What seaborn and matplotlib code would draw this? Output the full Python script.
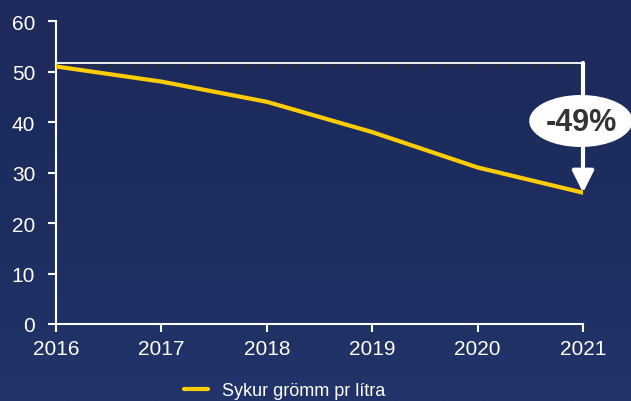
import matplotlib
matplotlib.use("Agg")
import matplotlib.pyplot as plt
import seaborn as sns
import pandas as pd
import numpy as np
from matplotlib.patches import Ellipse
from matplotlib.colors import LinearSegmentedColormap

years = [2016, 2017, 2018, 2019, 2020, 2021]
sugar = [51, 48, 44, 38, 31, 26]
series_name = "Sykur grömm pr lítra"
change_label = "-49%"
y_ticks = [0, 10, 20, 30, 40, 50, 60]

df = pd.DataFrame({"Ár": years, "Sykur": sugar, "Röð": series_name})

sns.set_theme(style="ticks")
plt.rcParams["font.family"] = ["Liberation Sans", "DejaVu Sans"]

bg = "#1c2b5c"
fig = plt.figure(figsize=(6.31, 4.02), dpi=100, facecolor=bg)

# soft navy background, a touch lighter towards the bottom
bg_ax = fig.add_axes([0, 0, 1, 1], zorder=-10)
grad = np.linspace(0, 1, 256).reshape(-1, 1) ** 2
cmap = LinearSegmentedColormap.from_list("navy", ["#1c2b5c", "#22346a"])
bg_ax.imshow(grad, aspect="auto", cmap=cmap, extent=[0, 1, 0, 1], origin="upper")
bg_ax.axis("off")

ax = fig.add_axes([56 / 631, 1 - 325 / 402, (583 - 56) / 631, (325 - 22) / 402])
ax.patch.set_alpha(0)

sns.lineplot(data=df, x="Ár", y="Sykur", hue="Röð", palette=["#ffcc00"],
             linewidth=3, ax=ax, legend=True, zorder=3)

ax.set_xlim(years[0], years[-1])
ax.set_ylim(0, 60)
ax.set_xticks(years)
ax.set_yticks(y_ticks)
ax.set_xlabel("")
ax.set_ylabel("")

for side in ("top", "right"):
    ax.spines[side].set_visible(False)
for side in ("left", "bottom"):
    ax.spines[side].set_color("white")
    ax.spines[side].set_linewidth(1.5)
ax.tick_params(axis="both", colors="white", labelcolor="white", labelsize=15,
               width=1.5, length=6, direction="out")
ax.tick_params(axis="x", pad=5)
ax.tick_params(axis="y", pad=9)

# reference level at the starting value, with a dark dashed shadow
start, end = sugar[0], sugar[-1]
ax.plot([years[0], years[-1]], [start + 0.1, start + 0.1], color="#2b2b2b",
        linewidth=1.5, linestyle=(0, (3, 3)), zorder=2, clip_on=False)
ax.plot([years[0], years[-1]], [start + 0.7, start + 0.7], color="white",
        linewidth=1.3, zorder=2, clip_on=False)

# downward arrow from the reference level to the last value
ax.annotate("", xy=(years[-1], end), xytext=(years[-1], start + 0.7),
            arrowprops=dict(arrowstyle="-|>,head_length=1.1,head_width=0.55",
                            color="white", lw=3, shrinkA=0, shrinkB=0),
            zorder=4, annotation_clip=False)

# change label in a white ellipse
ell = Ellipse((years[-1] - 0.02, 40.2), width=0.98, height=10.3,
              facecolor="white", edgecolor="none", zorder=5, clip_on=False)
ax.add_patch(ell)
ax.text(years[-1] - 0.02, 40.0, change_label, ha="center", va="center",
        fontsize=22, fontweight="bold", color="#333333", zorder=6)

leg = ax.legend(loc="center", bbox_to_anchor=((285 - 56) / 527, -(392 - 325) / 303),
                frameon=False, fontsize=13, handlelength=1.3, handletextpad=0.8,
                borderpad=0, borderaxespad=0, bbox_transform=ax.transAxes)
for t in leg.get_texts():
    t.set_color("white")

fig.savefig("out.png", dpi=100, facecolor=bg)
